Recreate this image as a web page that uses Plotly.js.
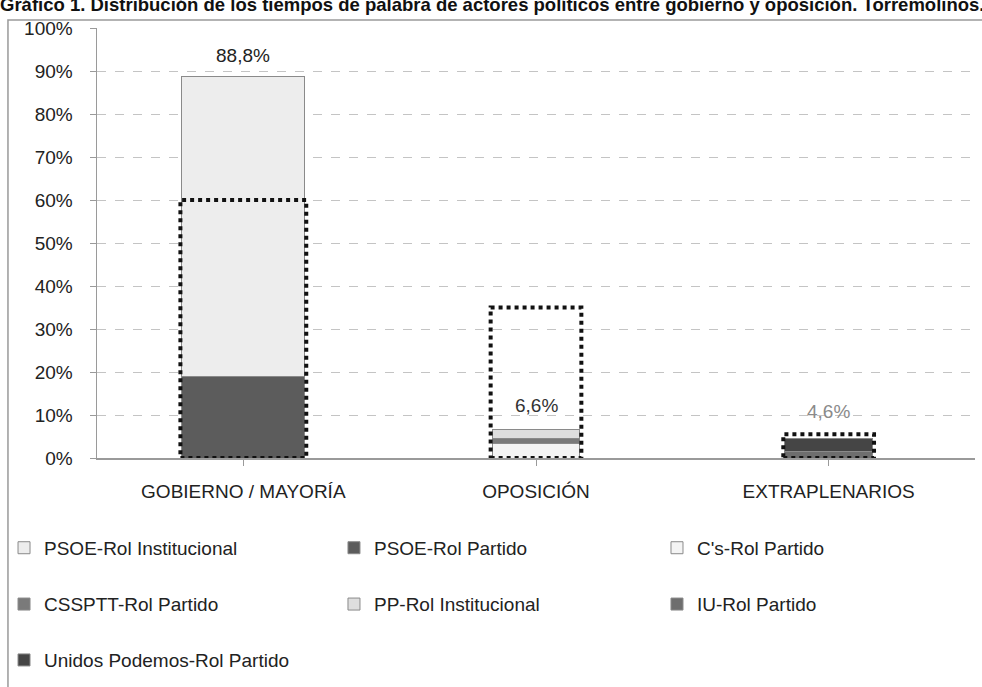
<!DOCTYPE html>
<html>
<head>
<meta charset="utf-8">
<script src="https://cdn.plot.ly/plotly-3.0.1.min.js"></script>
<style>
html,body{margin:0;padding:0;background:#fff;}
#chart{width:982px;height:687px;}
</style>
</head>
<body>
<div id="chart"></div>
<script>
// ---- data ----
const categorias = ["GOBIERNO / MAYORÍA", "OPOSICIÓN", "EXTRAPLENARIOS"];
const psoePartido = [19.0, 0, 0];
const psoeInstitucional = [69.8, 0, 0];
const csPartido = [0, 3.3, 0];
const cssPttPartido = [0, 1.2, 0];
const ppInstitucional = [0, 2.1, 0];
const iuPartido = [0, 0, 1.5];
const podemosPartido = [0, 0, 3.1];
const totales = [88.8, 6.6, 4.6];
const etiquetasTotales = ["88,8%", "6,6%", "4,6%"];
const referencia = [60, 35, 5.5];
const yTicks = [0, 10, 20, 30, 40, 50, 60, 70, 80, 90, 100];
const yTickText = ["0%", "10%", "20%", "30%", "40%", "50%", "60%", "70%", "80%", "90%", "100%"];
const titulo = "Gráfico 1. Distribución de los tiempos de palabra de actores políticos entre gobierno y oposición. Torremolinos.";

// ---- styling ----
const FONT = "Liberation Sans, Arial, sans-serif";
const barWidths = [0.42, 0.30, 0.30];
const boxWidths = [0.43, 0.31, 0.31];
const idx = categorias.map((c, i) => i);

function mk(name, vals, color, legend) {
  return {
    type: "bar", name: name, x: idx, y: vals, width: barWidths,
    marker: {color: color, line: {color: "#8a8a8a", width: 1}},
    legend: legend, hoverinfo: "name+y"
  };
}

const traces = [
  mk("PSOE-Rol Partido", psoePartido, "#5c5c5c", "legend2"),
  mk("PSOE-Rol Institucional", psoeInstitucional, "#ededed", "legend"),
  mk("C's-Rol Partido", csPartido, "#f4f4f4", "legend3"),
  mk("CSSPTT-Rol Partido", cssPttPartido, "#7a7a7a", "legend4"),
  mk("PP-Rol Institucional", ppInstitucional, "#dedede", "legend5"),
  mk("IU-Rol Partido", iuPartido, "#6e6e6e", "legend6"),
  mk("Unidos Podemos-Rol Partido", podemosPartido, "#454545", "legend7")
];

const shapes = referencia.map((v, i) => ({
  type: "rect", xref: "x", yref: "y",
  x0: i - boxWidths[i] / 2, x1: i + boxWidths[i] / 2, y0: 0, y1: v,
  line: {color: "#111", width: 4, dash: "dot"}, fillcolor: "rgba(0,0,0,0)", layer: "above"
}));
// outer frame
shapes.push({type: "rect", xref: "paper", yref: "paper", x0: -0.1014, x1: 1.05, y0: -0.7, y1: 1.0186,
  line: {color: "#9a9a9a", width: 1.5}, layer: "below"});

const labelColors = ["#222", "#333", "#8a8a8a"];
const annotations = totales.map((t, i) => ({
  x: i, y: t, xref: "x", yref: "y", text: etiquetasTotales[i], showarrow: false,
  yanchor: "bottom", yshift: [8, 12, 14][i], font: {family: FONT, size: 19, color: labelColors[i]}
}));

function leg(x, y) {
  return {orientation: "h", xanchor: "left", yanchor: "middle", x: x, y: y,
    font: {family: FONT, size: 19, color: "#222"}, bgcolor: "rgba(0,0,0,0)"};
}
const colX = [-0.1059, 0.2699, 0.6378];
const rowY = [-0.209, -0.340, -0.470];

const layout = {
  width: 982, height: 687,
  margin: {l: 97, r: 7, t: 28, b: 229, autoexpand: false},
  paper_bgcolor: "#fff", plot_bgcolor: "#fff",
  barmode: "stack", bargap: 0.5,
  title: {text: "<b>" + titulo + "</b>", x: 0, xanchor: "left", xref: "container",
    y: 0.9935, yanchor: "middle", yref: "container", automargin: false,
    font: {family: "Liberation Sans Narrow, Arial Narrow, sans-serif", size: 18.5, color: "#111"}},
  xaxis: {tickmode: "array", tickvals: idx, ticktext: categorias, range: [-0.5, 2.5], automargin: false,
    showline: true, linecolor: "#9a9a9a", linewidth: 1.5, ticks: "outside", tickson: "boundaries",
    ticklen: 6, tickcolor: "#9a9a9a", showgrid: false, zeroline: false, ticklabelstandoff: 10,
    tickfont: {family: FONT, size: 19, color: "#222"}},
  yaxis: {range: [0, 100], tickmode: "array", tickvals: yTicks, ticktext: yTickText, automargin: false,
    showline: true, linecolor: "#9a9a9a", linewidth: 1.5, ticks: "outside", ticklen: 6, tickcolor: "#9a9a9a",
    showgrid: true, gridcolor: "#c4c4c4", griddash: "dash", gridwidth: 1, zeroline: false,
    tickfont: {family: FONT, size: 19, color: "#222"}, ticklabelstandoff: 13},
  legend: leg(colX[0], rowY[0]),
  legend2: leg(colX[1], rowY[0]),
  legend3: leg(colX[2], rowY[0]),
  legend4: leg(colX[0], rowY[1]),
  legend5: leg(colX[1], rowY[1]),
  legend6: leg(colX[2], rowY[1]),
  legend7: leg(colX[0], rowY[2]),
  shapes: shapes,
  annotations: annotations,
  showlegend: true
};

Plotly.newPlot("chart", traces, layout, {displayModeBar: false, staticPlot: true});
</script>
</body>
</html>
